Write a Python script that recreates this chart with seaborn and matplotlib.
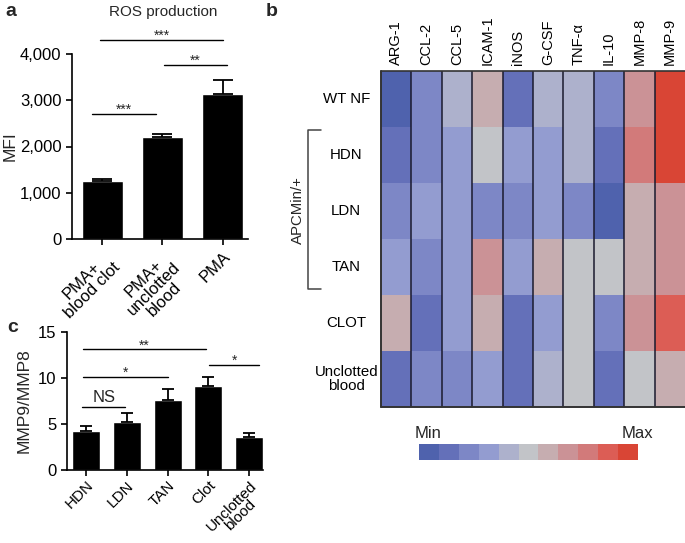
import numpy as np
import pandas as pd
import matplotlib
matplotlib.use("Agg")
import matplotlib.pyplot as plt
from matplotlib.colors import ListedColormap
import seaborn as sns

# ---------------- data ----------------
ros_labels = ["PMA+\nblood clot", "PMA+\nunclotted\nblood", "PMA"]
ros_mean = [1250, 2210, 3140]
ros_err = [55, 50, 290]
ros_ticks = [0, 1000, 2000, 3000, 4000]

ratio_labels = ["HDN", "LDN", "TAN", "Clot", "Unclotted\nblood"]
ratio_mean = [4.2, 5.2, 7.65, 9.1, 3.55]
ratio_err = [0.6, 0.95, 1.2, 1.0, 0.45]
ratio_ticks = [0, 5, 10, 15]

genes = ["ARG-1", "CCL-2", "CCL-5", "ICAM-1", "iNOS", "G-CSF", "TNF-α", "IL-10", "MMP-8", "MMP-9"]
samples = ["WT NF", "HDN", "LDN", "TAN", "CLOT", "Unclotted\nblood"]
lvl_wtnf = [0, 2, 4, 6, 1, 4, 4, 2, 7, 10]
lvl_hdn = [1, 2, 3, 5, 3, 3, 4, 1, 8, 10]
lvl_ldn = [2, 3, 3, 2, 2, 3, 2, 0, 6, 7]
lvl_tan = [3, 2, 3, 7, 3, 6, 5, 5, 6, 7]
lvl_clot = [6, 1, 3, 6, 1, 3, 5, 2, 7, 9]
lvl_unclot = [1, 2, 2, 3, 1, 4, 5, 1, 5, 6]

scale_colors = ["#4f62ad", "#6470b9", "#7d87c6", "#939cd0", "#adb1cc", "#c2c4c8",
                "#c6adb0", "#cb9296", "#d27a7a", "#dc5d55", "#d94535"]
scale_levels = list(range(11))

# ---------------- style ----------------
sns.set_style("ticks")
plt.rcParams['font.family'] = ['Liberation Sans', 'DejaVu Sans']
plt.rcParams['font.size'] = 10
plt.rcParams['axes.linewidth'] = 1.2
plt.rcParams['xtick.major.width'] = 1.2
plt.rcParams['ytick.major.width'] = 1.2
plt.rcParams['xtick.color'] = 'black'
plt.rcParams['ytick.color'] = 'black'
plt.rcParams['axes.edgecolor'] = 'black'

W, H = 685, 543
fig = plt.figure(figsize=(W / 100, H / 100), dpi=100)

TICK = 12
YLAB = 12.5


def px_axes(x0, y0, x1, y1):
    return fig.add_axes([x0 / W, 1 - y1 / H, (x1 - x0) / W, (y1 - y0) / H])


def sig(ax, x0, x1, y, text, size=10, off=0):
    ax.plot([x0, x1], [y, y], color='black', lw=1.0, clip_on=False)
    ax.annotate(text, xy=((x0 + x1) / 2, y), xytext=(0, off), textcoords='offset points',
                ha='center', va='baseline', fontsize=size, annotation_clip=False)


# ---------------- panel a ----------------
axa = px_axes(72, 54, 248, 239)
sns.barplot(x=ros_labels, y=ros_mean, color='black', saturation=1, width=0.68,
            errorbar=None, ax=axa)
axa.errorbar(range(len(ros_mean)), ros_mean, yerr=[np.zeros(len(ros_err)), ros_err],
             fmt='none', ecolor='black', elinewidth=1.3, capsize=7, capthick=1.3)
axa.set_xlim(-0.5, 2.42)
axa.set_ylim(0, 4000)
axa.set_yticks(ros_ticks)
axa.set_yticklabels([f"{t:,}" for t in ros_ticks], fontsize=TICK)
axa.set_xticks(range(len(ros_labels)))
axa.set_xticklabels(ros_labels, rotation=45, ha='right', rotation_mode='anchor',
                    multialignment='center', fontsize=TICK, linespacing=0.95)
axa.tick_params(length=4)
axa.set_ylabel("MFI", fontsize=YLAB)
axa.yaxis.set_label_coords(-0.31, 0.5)
sns.despine(ax=axa)
sig(axa, -0.04, 2.01, 4300, "***")
sig(axa, 1.02, 2.07, 3760, "**")
sig(axa, -0.16, 0.89, 2700, "***")
fig.text(163 / W, 1 - 12 / H, "ROS production", ha='center', va='center', fontsize=11)
fig.text(5 / W, 1 - 12 / H, "a", ha='left', va='center', fontsize=14, fontweight='bold')

# ---------------- panel c ----------------
axc = px_axes(67, 332, 263, 470)
sns.barplot(x=ratio_labels, y=ratio_mean, color='black', saturation=1, width=0.69,
            errorbar=None, ax=axc)
axc.errorbar(range(len(ratio_mean)), ratio_mean,
             yerr=[np.zeros(len(ratio_err)), ratio_err],
             fmt='none', ecolor='black', elinewidth=1.3, capsize=4.5, capthick=1.3)
axc.set_xlim(-0.47, 4.34)
axc.set_ylim(0, 15)
axc.set_yticks(ratio_ticks)
axc.set_yticklabels([str(t) for t in ratio_ticks], fontsize=TICK)
axc.set_xticks(range(len(ratio_labels)))
axc.set_xticklabels(ratio_labels, rotation=45, ha='right', rotation_mode='anchor',
                    multialignment='center', fontsize=11, linespacing=0.85)
axc.tick_params(length=4)
axc.tick_params(axis='x', pad=2)
axc.set_ylabel("MMP9/MMP8", fontsize=YLAB)
axc.yaxis.set_label_coords(-0.18, 0.5)
sns.despine(ax=axc)
sig(axc, -0.07, 2.94, 13.1, "**")
sig(axc, -0.07, 2.01, 10.1, "*")
sig(axc, -0.1, 0.96, 6.85, "NS", size=12, off=3.5)
sig(axc, 3.02, 4.25, 11.4, "*")
fig.text(7 / W, 1 - 327 / H, "c", ha='left', va='center', fontsize=14, fontweight='bold')

# ---------------- panel b ----------------
heat = pd.DataFrame([lvl_wtnf, lvl_hdn, lvl_ldn, lvl_tan, lvl_clot, lvl_unclot],
                    index=samples, columns=genes)
cmap = ListedColormap(scale_colors)
axb = px_axes(381, 71, 685, 407)
sns.heatmap(heat, cmap=cmap, vmin=-0.5, vmax=10.5, cbar=False, ax=axb,
            linewidths=0)
nrow, ncol = heat.shape
axb.vlines(np.arange(1, ncol), 0, nrow, colors='#1a1a2e', lw=1.1)
axb.plot([0, 0], [0, nrow], color='#333333', lw=1.4, clip_on=False)
axb.plot([0, ncol], [0, 0], color='#333333', lw=1.2, clip_on=False)
axb.plot([0, ncol], [nrow, nrow], color='#333333', lw=1.4, clip_on=False)
axb.xaxis.tick_top()
axb.set_xticks(np.arange(ncol) + 0.5)
axb.set_xticklabels(genes, rotation=90, fontsize=10.5)
axb.set_yticks(np.arange(nrow) + 0.5)
axb.set_yticklabels(samples, rotation=0, ha='center', multialignment='center',
                    fontsize=10.8, linespacing=1.0)
axb.tick_params(axis='both', length=0)
axb.tick_params(axis='x', pad=4)
axb.tick_params(axis='y', pad=25)
axb.set_xlabel("")
axb.set_ylabel("")
# bracket for APCMin/+
bx, bt = -2.40, -1.97
axb.plot([bt, bx, bx, bt], [1.05, 1.05, 3.89, 3.89], color='#444444', lw=1.1, clip_on=False)
axb.text(-2.73, 2.48, "APCMin/+", rotation=90, ha='center', va='center', fontsize=10.8)
fig.text(266 / W, 1 - 12 / H, "b", ha='left', va='center', fontsize=14, fontweight='bold')

# colour scale
axs = px_axes(419, 444, 638, 460)
scale_df = pd.DataFrame([scale_levels])
sns.heatmap(scale_df, cmap=cmap, vmin=-0.5, vmax=10.5, cbar=False, ax=axs,
            xticklabels=False, yticklabels=False)
axs.set_xlabel("")
axs.set_ylabel("")
fig.text(428 / W, 1 - 433 / H, "Min", ha='center', va='center', fontsize=12)
fig.text(637 / W, 1 - 433 / H, "Max", ha='center', va='center', fontsize=12)

fig.savefig("out.png", dpi=100)
